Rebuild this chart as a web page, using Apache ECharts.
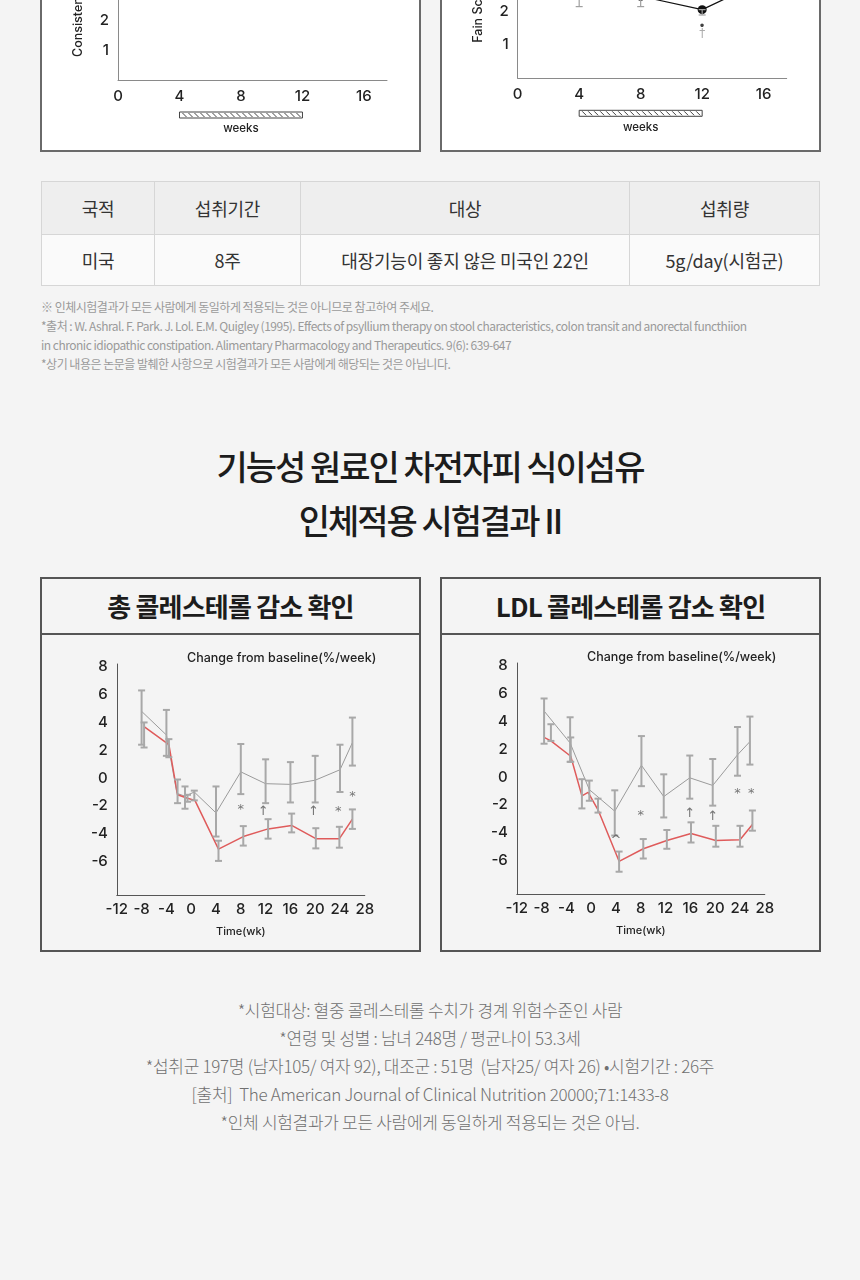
<!DOCTYPE html>
<html>
<head>
<meta charset="utf-8">
<script src="https://cdn.jsdelivr.net/npm/echarts@6/dist/echarts.min.js"></script>
<style>
  html, body { margin: 0; padding: 0; }
  body {
    width: 860px; height: 1280px; position: relative; overflow: hidden;
    background: #f4f4f4; font-family: 'Noto Sans CJK KR', 'Noto Sans', sans-serif; color: #222;
  }
  .abs { position: absolute; }
  .topbox { position: absolute; top: -10px; width: 381px; height: 162px; box-sizing: border-box;
    border: 2.5px solid #6a6a6a; background: #fff; }
  table.info { position: absolute; left: 41px; top: 181px; width: 779px; border-collapse: collapse;
    font-size: 18px; color: #333; letter-spacing: -0.2px; }
  table.info td { border: 1px solid #d6d6d6; text-align: center; padding: 0; }
  table.info tr.head td { background: #eeeeee; height: 52px; }
  table.info tr.body td { background: #fafafa; height: 50px; }
  .foot { left: 41px; top: 297px; font-size: 12px; line-height: 19px; color: #9a9a9a; letter-spacing: -0.5px; white-space: nowrap; }
  .title { left: 0; width: 860px; top: 439px; text-align: center; font-size: 34px; line-height: 54px;
    font-weight: 500; color: #1c1c1c; letter-spacing: -2px; }
  .cbox { position: absolute; top: 577px; width: 381px; height: 375px; box-sizing: border-box; border: 2px solid #555; }
  .cbox .hd { height: 54px; border-bottom: 2px solid #555; text-align: center; line-height: 54px;
    font-size: 26px; font-weight: 700; letter-spacing: -0.8px; color: #1c1c1c; }
  .notes { left: 0; width: 860px; top: 996px; text-align: center; font-size: 17px; line-height: 28px;
    color: #707070; font-weight: 300; letter-spacing: -0.3px; }
  #topChart { position: absolute; left: 0; top: -140px; width: 860px; height: 292px; }
  #botChart { position: absolute; left: 0; top: 577px; width: 860px; height: 376px; }
</style>
</head>
<body>
<div class="topbox" style="left:40px"></div>
<div class="topbox" style="left:440px"></div>
<div id="topChart"></div>

<table class="info">
  <tr class="head"><td style="width:112px">국적</td><td style="width:145px">섭취기간</td><td style="width:328px">대상</td><td>섭취량</td></tr>
  <tr class="body"><td>미국</td><td>8주</td><td>대장기능이 좋지 않은 미국인 22인</td><td>5g/day(시험군)</td></tr>
</table>

<div class="abs foot">
※ 인체시험결과가 모든 사람에게 동일하게 적용되는 것은 아니므로 참고하여 주세요.<br>
*출처 : W. Ashral. F. Park. J. Lol. E.M. Quigley (1995). Effects of psyllium therapy on stool characteristics, colon transit and anorectal functhiion<br>
in chronic idiopathic constipation. Alimentary Pharmacology and Therapeutics. 9(6): 639-647<br>
*상기 내용은 논문을 발췌한 사항으로 시험결과가 모든 사람에게 해당되는 것은 아닙니다.
</div>

<div class="abs title">기능성 원료인 차전자피 식이섬유<br>인체적용 시험결과 II</div>

<div class="cbox" style="left:40px"><div class="hd">총 콜레스테롤 감소 확인</div></div>
<div class="cbox" style="left:440px"><div class="hd">LDL 콜레스테롤 감소 확인</div></div>
<div id="botChart"></div>

<div class="abs notes">
*시험대상: 혈중 콜레스테롤 수치가 경계 위험수준인 사람<br>
*연령 및 성별 : 남녀 248명 / 평균나이 53.3세<br>
*섭취군 197명 (남자105/ 여자 92), 대조군 : 51명 &nbsp;(남자25/ 여자 26) •시험기간 : 26주<br>
[출처] &nbsp;The American Journal of Clinical Nutrition 20000;71:1433-8<br>
*인체 시험결과가 모든 사람에게 동일하게 적용되는 것은 아님.
</div>

<script>
// ---- top charts (weeks) ----
const weekTicks = [0, 4, 8, 12, 16];
const treatmentPeriod = [4, 12];
// pain score, psyllium group (only the lower part is visible)
const painWeeks = [4, 8, 12, 16];
const painMean = [2.6, 2.45, 2.05, 2.92];
const painErrWeeks = [4, 8, 12];
const painErrLow = [2.14, 2.14, 1.89];
const painErrHigh = [3.06, 2.76, 2.05];
const painDot = [[12, 1.53, '•']];
const painDagger = [[12, 1.32, '†']];

// ---- total cholesterol, change from baseline (%/week) ----
const tcCtrlWeeks = [-8, -4, -2.3, -1, 0.5, 4, 8, 12, 16, 20, 24, 26];
const tcCtrlMean  = [4.8, 3.1, -1.1, -1.3, -1.0, -2.5, 0.45, -0.4, -0.45, -0.15, 0.6, 2.55];
const tcCtrlLow   = [2.4, 1.6, null, -2.2, -1.6, -4.2, -1.15, -1.8, -1.75, -1.75, -1.0, 0.9];
const tcCtrlHigh  = [6.3, 4.9, null, -0.6, -0.9, -0.6, 2.45, 1.35, 1.15, 1.6, 2.4, 4.35];
const tcPsyWeeks  = [-7.6, -3.6, -2.2, -0.6, 0.6, 4.4, 8.4, 12.4, 16.2, 20.1, 23.9, 26];
const tcPsyMean   = [3.7, 2.4, -1.2, -1.45, -1.6, -5.1, -4.2, -3.65, -3.4, -4.35, -4.35, -2.95];
const tcPsyLow    = [2.2, 1.5, -1.8, -1.7, null, -5.95, -4.85, -4.35, -3.9, -5.05, -5.0, -3.65];
const tcPsyHigh   = [4.0, 2.8, -0.1, -1.2, null, -4.5, -3.45, -2.95, -2.55, -3.6, -3.5, -2.25];
const tcMarks = [[8, -2.25, '*'], [11.6, -2.4, '↑'], [19.7, -2.4, '↑'], [23.7, -2.4, '*'], [26, -1.35, '*']];

// ---- LDL cholesterol ----
const ldlCtrlWeeks = [-7.6, -3.4, -0.3, 3.8, 8.1, 11.7, 15.9, 19.6, 23.6, 25.6];
const ldlCtrlMean  = [4.75, 2.45, -0.9, -2.45, 0.85, -1.4, -0.05, -0.6, 1.6, 2.55];
const ldlCtrlLow   = [2.4, 1.1, -1.7, -4.2, -0.65, -2.9, -1.55, -2.05, 0.1, 0.9];
const ldlCtrlHigh  = [5.65, 4.3, -0.25, -0.95, 2.95, 0.2, 1.55, 1.3, 3.6, 4.35];
const ldlPsyWeeks  = [-7.6, -6.5, -3.3, -1.5, -0.5, 1.1, 4.5, 8.4, 12.2, 16.1, 20.1, 24.0, 26.0];
const ldlPsyMean   = [2.85, 2.6, 1.5, -1.35, -1.1, -2.35, -6.05, -5.15, -4.55, -4.05, -4.55, -4.5, -3.4];
const ldlPsyLow    = [null, 2.6, 1.1, -2.25, null, -2.55, -6.8, -5.85, -5.15, -4.7, -5.0, -5.0, -3.85];
const ldlPsyHigh   = [null, 3.8, 2.85, -0.15, null, -1.55, -5.35, -4.45, -3.8, -3.25, -3.5, -3.5, -2.4];
const ldlMarks = [[4, -4.6, '^'], [8, -2.75, '*'], [15.9, -2.6, '↑'], [19.6, -2.85, '↑'], [23.6, -1.2, '*'], [25.8, -1.2, '*']];

const changeTicks = [-6, -4, -2, 0, 2, 4, 6, 8];

const NUM_FONT = "Inter, 'Noto Sans', sans-serif";

function pairs(xs, ys) { return xs.map((x, i) => [x, ys[i]]); }

function errBars(idx, xs, lo, hi, color, width) {
  const data = [];
  xs.forEach((x, i) => { if (lo[i] != null) data.push([x, lo[i], hi[i]]); });
  return {
    type: 'custom', xAxisIndex: idx, yAxisIndex: idx, data, z: 4, silent: true,
    renderItem(params, api) {
      const a = api.coord([api.value(0), api.value(1)]);
      const b = api.coord([api.value(0), api.value(2)]);
      const w = 3.5;
      const st = { stroke: color, lineWidth: width };
      return { type: 'group', children: [
        { type: 'line', shape: { x1: a[0], y1: a[1], x2: b[0], y2: b[1] }, style: st },
        { type: 'line', shape: { x1: a[0] - w, y1: a[1], x2: a[0] + w, y2: a[1] }, style: st },
        { type: 'line', shape: { x1: b[0] - w, y1: b[1], x2: b[0] + w, y2: b[1] }, style: st }
      ] };
    }
  };
}

function marks(idx, data, color, size) {
  return {
    type: 'scatter', xAxisIndex: idx, yAxisIndex: idx, data, symbolSize: 1, z: 5, silent: true,
    itemStyle: { color: 'rgba(0,0,0,0)' },
    label: { show: true, position: 'inside', formatter: p => p.value[2], color, fontSize: size, fontFamily: "'DejaVu Sans', sans-serif" }
  };
}

// hatched bar under the x axis showing the treatment weeks
function periodBar(idx) {
  return {
    type: 'custom', xAxisIndex: idx, yAxisIndex: idx, data: [treatmentPeriod], silent: true, clip: false,
    renderItem(params, api) {
      const p1 = api.coord([api.value(0), 0]);
      const p2 = api.coord([api.value(1), 0]);
      const top = p1[1] + 32, h = 6;
      const kids = [{ type: 'rect', shape: { x: p1[0], y: top, width: p2[0] - p1[0], height: h },
        style: { fill: '#fff', stroke: '#444', lineWidth: 1 } }];
      for (let x = p1[0] + 3; x < p2[0] - 4; x += 6) {
        kids.push({ type: 'line', shape: { x1: x, y1: top + 1, x2: x + 4, y2: top + h - 1 }, style: { stroke: '#444', lineWidth: 1 } });
      }
      kids.push({ type: 'text', style: { text: 'weeks', x: (p1[0] + p2[0]) / 2, y: top + h + 11,
        align: 'center', verticalAlign: 'middle', font: "500 11.5px Inter, sans-serif", fill: '#222' } });
      return { type: 'group', children: kids };
    }
  };
}

function weekAxis(idx) {
  return {
    type: 'value', gridIndex: idx, min: 0, max: 17.5, interval: 4,
    axisLine: { onZero: false, lineStyle: { color: '#8a8a8a', width: 1 } }, axisTick: { show: false }, splitLine: { show: false },
    axisLabel: { color: '#222', fontSize: 15, fontWeight: 500, fontFamily: NUM_FONT, margin: 9, customValues: weekTicks }
  };
}
function scoreAxis(idx, name) {
  return {
    type: 'value', gridIndex: idx, min: 0, max: 4, interval: 1,
    name, nameLocation: 'middle', nameGap: 33, nameTextStyle: { color: '#222', fontSize: 12.5, fontWeight: 500, fontFamily: NUM_FONT },
    axisLine: { show: true, onZero: false, lineStyle: { color: '#8a8a8a', width: 1 } }, axisTick: { show: false }, splitLine: { show: false },
    axisLabel: { color: '#222', fontSize: 15, fontWeight: 500, fontFamily: NUM_FONT, margin: 9, customValues: [1, 2, 3, 4] }
  };
}

const topChart = echarts.init(document.getElementById('topChart'));
topChart.setOption({
  animation: false,
  grid: [
    { left: 118, top: 100, width: 269, height: 120 },
    { left: 517.7, top: 84.3, width: 269, height: 134 }
  ],
  xAxis: [weekAxis(0), weekAxis(1)],
  yAxis: [scoreAxis(0, 'Consistency'), scoreAxis(1, 'Fain Score')],
  series: [
    periodBar(0),
    periodBar(1),
    errBars(1, painErrWeeks, painErrLow, painErrHigh, '#a0a0a0', 1.2),
    { type: 'line', xAxisIndex: 1, yAxisIndex: 1, data: pairs(painWeeks, painMean), z: 3,
      symbol: 'circle', symbolSize: 9, itemStyle: { color: '#111' }, lineStyle: { color: '#111', width: 1.2 } },
    marks(1, painDot, '#111', 12),
    marks(1, painDagger, '#999', 12)
  ]
});

function timeAxis(idx) {
  return {
    type: 'value', gridIndex: idx, min: -12, max: 28, interval: 4,
    name: 'Time(wk)', nameLocation: 'middle', nameGap: 31,
    nameTextStyle: { color: '#222', fontSize: 11, fontWeight: 500, fontFamily: NUM_FONT },
    axisLine: { onZero: false, lineStyle: { color: '#555', width: 1 } }, axisTick: { show: false }, splitLine: { show: false },
    axisLabel: { color: '#222', fontSize: 15, fontWeight: 500, fontFamily: NUM_FONT, margin: 7 }
  };
}
function changeAxis(idx) {
  return {
    type: 'value', gridIndex: idx, min: -8.4, max: 8.2,
    axisLine: { show: true, onZero: false, lineStyle: { color: '#555', width: 1 } }, axisTick: { show: false }, splitLine: { show: false },
    axisLabel: { color: '#222', fontSize: 15, fontWeight: 500, fontFamily: NUM_FONT, margin: 9, customValues: changeTicks }
  };
}
function ctrlLine(idx, xs, ys) {
  return { type: 'line', xAxisIndex: idx, yAxisIndex: idx, data: pairs(xs, ys), symbol: 'none', z: 2,
    lineStyle: { color: '#9a9a9a', width: 1 } };
}
function psyLine(idx, xs, ys) {
  return { type: 'line', xAxisIndex: idx, yAxisIndex: idx, data: pairs(xs, ys), symbol: 'none', z: 3,
    lineStyle: { color: '#df5b5b', width: 1.5 } };
}

const botChart = echarts.init(document.getElementById('botChart'));
botChart.setOption({
  animation: false,
  title: [
    { text: 'Change from baseline(%/week)', left: 182, top: 70, textStyle: { fontSize: 12.5, fontWeight: 500, color: '#222', fontFamily: NUM_FONT } },
    { text: 'Change from baseline(%/week)', left: 582, top: 69, textStyle: { fontSize: 12.5, fontWeight: 500, color: '#222', fontFamily: NUM_FONT } }
  ],
  grid: [
    { left: 116.8, top: 87, width: 248, height: 231 },
    { left: 516.8, top: 86, width: 248, height: 231 }
  ],
  xAxis: [timeAxis(0), timeAxis(1)],
  yAxis: [changeAxis(0), changeAxis(1)],
  series: [
    ctrlLine(0, tcCtrlWeeks, tcCtrlMean),
    psyLine(0, tcPsyWeeks, tcPsyMean),
    errBars(0, tcCtrlWeeks, tcCtrlLow, tcCtrlHigh, '#a8a8a8', 2),
    errBars(0, tcPsyWeeks, tcPsyLow, tcPsyHigh, '#a8a8a8', 2),
    marks(0, tcMarks, '#555', 13),
    ctrlLine(1, ldlCtrlWeeks, ldlCtrlMean),
    psyLine(1, ldlPsyWeeks, ldlPsyMean),
    errBars(1, ldlCtrlWeeks, ldlCtrlLow, ldlCtrlHigh, '#a8a8a8', 2),
    errBars(1, ldlPsyWeeks, ldlPsyLow, ldlPsyHigh, '#a8a8a8', 2),
    marks(1, ldlMarks, '#555', 13)
  ]
});
</script>
</body>
</html>
